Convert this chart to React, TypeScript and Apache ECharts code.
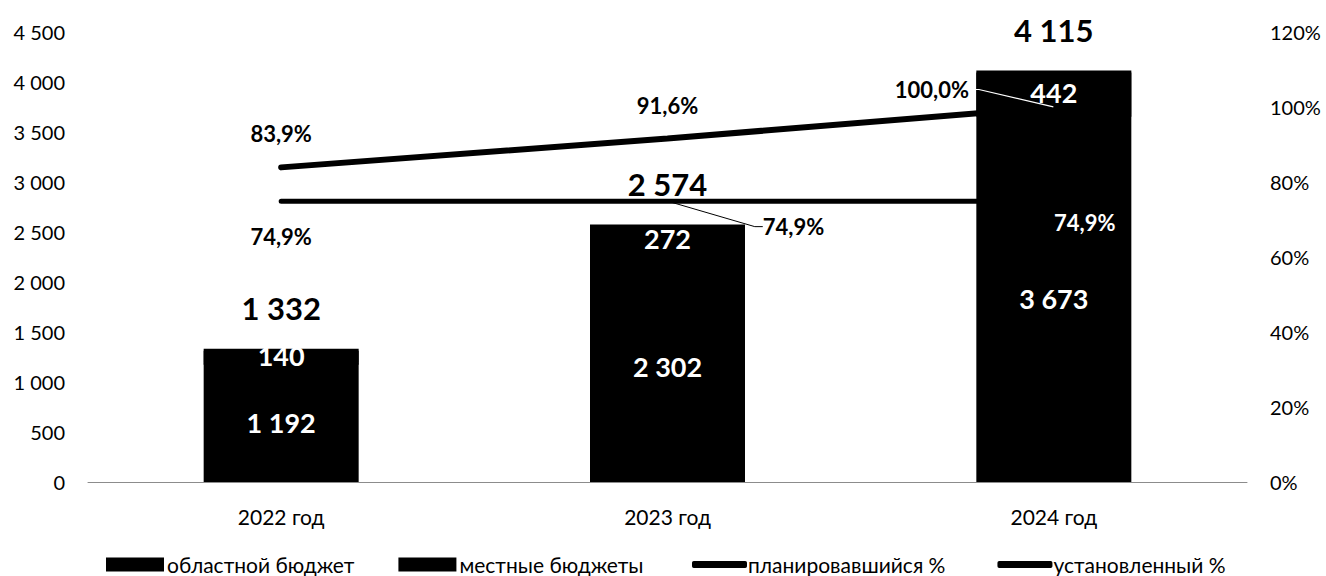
import React, { useEffect, useRef } from "react";
import * as echarts from "echarts";

const categories = ["2022 год", "2023 год", "2024 год"];
const regionalBudget = [1192, 2302, 3673];
const localBudgets = [140, 272, 442];
const plannedPct = [83.9, 91.6, 100.0];
const establishedPct = [74.9, 74.9, 74.9];
const leftAxis = { min: 0, max: 4500, step: 500 };
const rightAxis = { min: 0, max: 120, step: 20 };

const FONT = 'Lato, "Open Sans", "Noto Sans", sans-serif';

const fmtNum = (v: number) =>
  String(Math.round(v)).replace(/\B(?=(\d{3})+(?!\d))/g, " ");
const fmtPct = (v: number) => v.toFixed(1).replace(".", ",") + "%";

// label shifts (layout only)
const planShift = [
  [0, 0],
  [0, 0],
  [-122, 16],
];
const estShift = [
  [0, 0],
  [126, -10],
  [31, -14],
];

export default function App() {
  const ref = useRef<HTMLDivElement>(null);

  useEffect(() => {
    if (!ref.current) return;
    const chart = echarts.init(ref.current, null, { renderer: "svg" });
    const totals = regionalBudget.map((v, i) => v + localBudgets[i]);

    const barLabel = {
      show: true,
      position: "inside",
      color: "#fff",
      fontFamily: FONT,
      fontWeight: "bold",
      fontSize: 27,
      formatter: (p: any) => fmtNum(p.value),
    };

    chart.setOption({
      animation: false,
      backgroundColor: "#fff",
      textStyle: { fontFamily: FONT, color: "#000" },
      grid: { left: 88, right: 79, top: 32, bottom: 94, containLabel: false },
      legend: [
        {
          data: ["областной бюджет", "местные бюджеты"],
          left: 106,
          top: 554,
          padding: 0,
          icon: "rect",
          itemWidth: 58,
          itemHeight: 14,
          itemGap: 44,
          selectedMode: false,
          textStyle: { fontFamily: FONT, fontSize: 21, color: "#000", padding: [0, 0, 0, -2] },
        },
        {
          data: ["планировавшийся %", "установленный %"],
          left: 692,
          top: 554,
          padding: 0,
          icon: "roundRect",
          itemWidth: 55,
          itemHeight: 7,
          itemGap: 52,
          selectedMode: false,
          textStyle: { fontFamily: FONT, fontSize: 21, color: "#000", padding: [0, 0, 0, -4] },
        },
      ],
      xAxis: {
        type: "category",
        data: categories,
        axisLine: { show: true, lineStyle: { color: "#8c8c8c", width: 1 } },
        axisTick: { show: false },
        axisLabel: { margin: 24, fontSize: 21, color: "#000", fontFamily: FONT },
        splitLine: { show: false },
      },
      yAxis: [
        {
          type: "value",
          min: leftAxis.min,
          max: leftAxis.max,
          interval: leftAxis.step,
          axisLine: { show: false },
          axisTick: { show: false },
          splitLine: { show: false },
          axisLabel: {
            margin: 23,
            fontSize: 20,
            color: "#000",
            fontFamily: FONT,
            formatter: (v: number) => fmtNum(v),
          },
        },
        {
          type: "value",
          position: "right",
          min: rightAxis.min,
          max: rightAxis.max,
          interval: rightAxis.step,
          axisLine: { show: false },
          axisTick: { show: false },
          splitLine: { show: false },
          axisLabel: {
            margin: 23,
            fontSize: 20,
            color: "#000",
            fontFamily: FONT,
            formatter: "{value}%",
          },
        },
      ],
      series: [
        {
          name: "областной бюджет",
          type: "bar",
          stack: "budget",
          data: regionalBudget,
          barWidth: 155,
          itemStyle: { color: "#000" },
          label: barLabel,
          z: 2,
        },
        {
          name: "местные бюджеты",
          type: "bar",
          stack: "budget",
          data: localBudgets,
          barWidth: 155,
          itemStyle: {
            color: "#000",
            shadowColor: "#000",
            shadowBlur: 0,
            shadowOffsetX: 0,
            shadowOffsetY: 2,
          },
          label: barLabel,
          z: 3,
        },
        {
          name: "планировавшийся %",
          type: "line",
          yAxisIndex: 1,
          data: plannedPct,
          symbol: "none",
          itemStyle: { color: "#000" },
          lineStyle: { color: "#000", width: 6, cap: "round" },
          z: 1,
        },
        {
          name: "установленный %",
          type: "line",
          yAxisIndex: 1,
          data: establishedPct,
          symbol: "none",
          itemStyle: { color: "#000" },
          lineStyle: { color: "#000", width: 5, cap: "round" },
          z: 1,
        },
        {
          name: "итого",
          type: "scatter",
          data: totals,
          symbolSize: 1,
          itemStyle: { color: "rgba(0,0,0,0)", opacity: 1 },
          silent: true,
          z: 10,
          label: {
            show: true,
            position: "top",
            distance: 25,
            color: "#000",
            opacity: 1,
            fontFamily: FONT,
            fontWeight: "bold",
            fontSize: 31,
            formatter: (p: any) => fmtNum(p.value),
          },
        },
        {
          name: "планировавшийся % подписи",
          type: "line",
          yAxisIndex: 1,
          silent: true,
          z: 10,
          symbol: "circle",
          symbolSize: 1,
          itemStyle: { color: "rgba(0,0,0,0)", opacity: 1 },
          lineStyle: { opacity: 0 },
          data: plannedPct.map((v, i) =>
            i === 2
              ? {
                  value: v,
                  labelLine: {
                    show: true,
                    length2: 10,
                    lineStyle: { color: "#fff", width: 1.2 },
                  },
                }
              : v
          ),
          label: {
            show: true,
            position: "top",
            distance: 22,
            color: "#000",
            opacity: 1,
            fontFamily: FONT,
            fontWeight: "bold",
            fontSize: 22,
            formatter: (p: any) => fmtPct(p.value),
          },
          labelLayout: (p: any) => ({
            dx: planShift[p.dataIndex][0],
            dy: planShift[p.dataIndex][1],
          }),
        },
        {
          name: "установленный % подписи",
          type: "line",
          yAxisIndex: 1,
          silent: true,
          z: 10,
          symbol: "circle",
          symbolSize: 1,
          itemStyle: { color: "rgba(0,0,0,0)", opacity: 1 },
          lineStyle: { opacity: 0 },
          data: establishedPct.map((v, i) =>
            i === 1
              ? {
                  value: v,
                  labelLine: {
                    show: true,
                    length2: 8,
                    lineStyle: { color: "#000", width: 1 },
                  },
                }
              : i === 2
              ? { value: v, label: { color: "#fff" } }
              : v
          ),
          label: {
            show: true,
            position: "bottom",
            distance: 24,
            color: "#000",
            opacity: 1,
            fontFamily: FONT,
            fontWeight: "bold",
            fontSize: 22,
            formatter: (p: any) => fmtPct(p.value),
          },
          labelLayout: (p: any) => ({
            dx: estShift[p.dataIndex][0],
            dy: estShift[p.dataIndex][1],
          }),
        },
      ],
    });

    return () => chart.dispose();
  }, []);

  return (
    <div
      ref={ref}
      style={{ position: "fixed", left: 0, top: 0, width: 1326, height: 576, background: "#fff" }}
    />
  );
}
